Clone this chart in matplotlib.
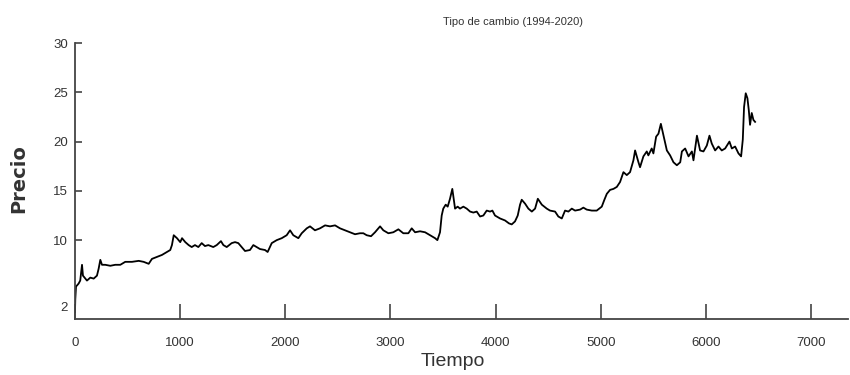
import matplotlib
matplotlib.use("Agg")
import matplotlib.pyplot as plt

plt.rcParams['font.family'] = ['Liberation Sans Narrow', 'Liberation Sans', 'DejaVu Sans']

# trading-day index and exchange rate (pesos per dollar), sampled along the series
tiempo = [
    0, 3, 10, 19, 35, 50, 67, 76, 98, 114,
    146, 178, 209, 225, 241, 257, 288, 336, 383, 431,
    478, 542, 606, 653, 701, 732, 780, 827, 875, 906,
    922, 939, 970, 1001, 1018, 1049, 1081, 1110, 1141, 1173,
    1205, 1236, 1268, 1315, 1348, 1388, 1411, 1443, 1490, 1522,
    1553, 1585, 1617, 1664, 1696, 1728, 1759, 1807, 1832, 1871,
    1918, 1966, 2013, 2045, 2076, 2108, 2124, 2156, 2204, 2235,
    2282, 2330, 2378, 2425, 2473, 2520, 2568, 2615, 2663, 2710,
    2742, 2774, 2815, 2853, 2901, 2932, 2980, 3027, 3075, 3122,
    3170, 3202, 3234, 3281, 3329, 3376, 3424, 3446, 3471, 3487,
    3502, 3525, 3544, 3566, 3588, 3614, 3639, 3661, 3693, 3725,
    3757, 3788, 3820, 3852, 3883, 3915, 3947, 3969, 3994, 4042,
    4089, 4127, 4153, 4184, 4210, 4232, 4248, 4280, 4311, 4344,
    4375, 4401, 4439, 4486, 4517, 4565, 4596, 4629, 4660, 4692,
    4724, 4755, 4803, 4834, 4866, 4914, 4961, 5009, 5034, 5057,
    5088, 5120, 5152, 5183, 5215, 5247, 5278, 5310, 5326, 5342,
    5358, 5373, 5405, 5437, 5452, 5484, 5500, 5526, 5548, 5571,
    5596, 5628, 5659, 5691, 5723, 5755, 5771, 5802, 5834, 5866,
    5881, 5914, 5944, 5976, 6008, 6033, 6055, 6087, 6119, 6150,
    6182, 6223, 6246, 6277, 6309, 6334, 6350, 6362, 6378, 6394,
    6407, 6419, 6435, 6451, 6467,
]
precio = [
    2.7, 4.0, 5.3, 5.4, 5.6, 5.9, 7.5, 6.4, 6.1, 5.9,
    6.2, 6.1, 6.4, 7.1, 8.0, 7.5, 7.5, 7.4, 7.5, 7.5,
    7.8, 7.8, 7.9, 7.8, 7.6, 8.1, 8.3, 8.5, 8.8, 9.0,
    9.5, 10.5, 10.2, 9.8, 10.2, 9.8, 9.5, 9.3, 9.5, 9.3,
    9.7, 9.4, 9.5, 9.3, 9.5, 9.9, 9.5, 9.3, 9.7, 9.8,
    9.7, 9.3, 8.9, 9.0, 9.5, 9.3, 9.1, 9.0, 8.8, 9.7,
    10.0, 10.2, 10.5, 11.0, 10.5, 10.3, 10.2, 10.7, 11.2, 11.4,
    11.0, 11.2, 11.5, 11.4, 11.5, 11.2, 11.0, 10.8, 10.6, 10.7,
    10.7, 10.5, 10.4, 10.8, 11.4, 11.0, 10.7, 10.8, 11.1, 10.7,
    10.7, 11.2, 10.8, 10.9, 10.8, 10.5, 10.2, 10.0, 10.8, 12.5,
    13.2, 13.6, 13.4, 14.2, 15.2, 13.2, 13.4, 13.2, 13.4, 13.2,
    12.9, 12.8, 12.9, 12.4, 12.5, 13.0, 12.9, 13.0, 12.5, 12.2,
    12.0, 11.7, 11.6, 11.9, 12.5, 13.6, 14.1, 13.7, 13.2, 12.9,
    13.2, 14.2, 13.6, 13.2, 13.0, 12.9, 12.4, 12.2, 13.0, 12.9,
    13.2, 13.0, 13.1, 13.3, 13.1, 13.0, 13.0, 13.4, 14.1, 14.7,
    15.1, 15.2, 15.4, 15.9, 16.9, 16.6, 16.9, 18.1, 19.1, 18.5,
    17.9, 17.4, 18.5, 19.0, 18.6, 19.3, 18.8, 20.5, 20.8, 21.8,
    20.6, 19.1, 18.6, 17.9, 17.6, 17.9, 19.0, 19.3, 18.5, 19.0,
    18.1, 20.6, 19.1, 19.0, 19.6, 20.6, 19.8, 19.1, 19.5, 19.1,
    19.3, 20.0, 19.3, 19.5, 18.8, 18.5, 20.2, 23.5, 24.9, 24.4,
    23.2, 21.7, 22.9, 22.2, 22.0,
]

xticks = [0, 1000, 2000, 3000, 4000, 5000, 6000, 7000]
yticks = [10, 15, 20, 25, 30]
y_min = 2

AXIS_COLOR = '#444444'
TEXT_COLOR = '#333333'


def main():
    fig = plt.figure(figsize=(8.5, 3.75), dpi=100)
    ax = fig.add_axes([0.0882, 0.1493, 0.9094, 0.736])

    ax.plot(tiempo, precio, color='black', linewidth=1.3)

    ax.set_xlim(0, 7350)
    ax.set_ylim(y_min, 30)
    ax.set_xticks(xticks)
    ax.set_xticklabels([str(t) for t in xticks])
    ax.set_yticks(yticks)
    ax.set_yticklabels([str(t) for t in yticks])

    for side in ['top', 'right']:
        ax.spines[side].set_visible(False)
    for side in ['left', 'bottom']:
        ax.spines[side].set_color(AXIS_COLOR)
        ax.spines[side].set_linewidth(1.3)

    ax.tick_params(axis='x', direction='in', length=11, width=1.2,
                   color=AXIS_COLOR, pad=13, labelsize=9.5, labelcolor=TEXT_COLOR)
    ax.tick_params(axis='y', direction='in', length=5, width=1.2,
                   color=AXIS_COLOR, pad=5, labelsize=9.5, labelcolor=TEXT_COLOR)

    # the lower limit is labelled without a tick mark, a little above the axis
    ax.annotate(str(y_min), xy=(0, y_min), xycoords=('axes fraction', 'data'),
                xytext=(-5, 8), textcoords='offset points',
                ha='right', va='center', fontsize=9.5, color=TEXT_COLOR)

    fig.text(513 / 850, 1 - 22 / 375, "Tipo de cambio (1994-2020)",
             ha='center', va='center', fontsize=8, color=TEXT_COLOR)
    fig.text(453 / 850, 1 - 362 / 375, "Tiempo",
             ha='center', va='center', fontsize=14, color=TEXT_COLOR)
    fig.text(19 / 850, 1 - 179 / 375, "Precio", rotation=90,
             ha='center', va='center', fontsize=14, fontweight='bold',
             family='DejaVu Sans', color=TEXT_COLOR)

    fig.savefig("out.png", dpi=100)


if __name__ == "__main__":
    main()
